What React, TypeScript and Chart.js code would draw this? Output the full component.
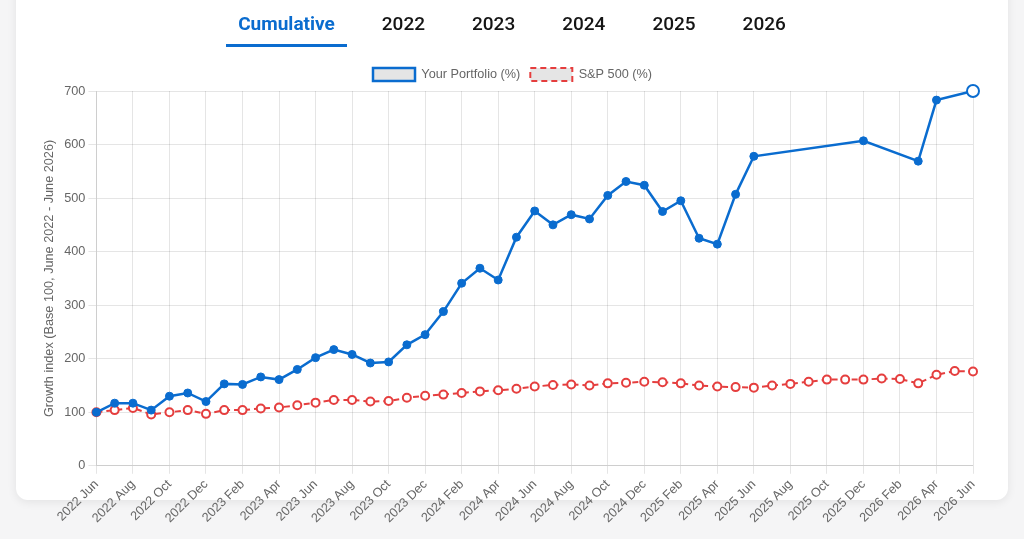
import React, { useEffect, useRef } from "react";
import { Chart, registerables } from "chart.js";

Chart.register(...registerables);

const monthLabels: string[] = [
  "2022 Jun", "2022 Jul", "2022 Aug", "2022 Sep", "2022 Oct", "2022 Nov", "2022 Dec",
  "2023 Jan", "2023 Feb", "2023 Mar", "2023 Apr", "2023 May", "2023 Jun", "2023 Jul",
  "2023 Aug", "2023 Sep", "2023 Oct", "2023 Nov", "2023 Dec",
  "2024 Jan", "2024 Feb", "2024 Mar", "2024 Apr", "2024 May", "2024 Jun", "2024 Jul",
  "2024 Aug", "2024 Sep", "2024 Oct", "2024 Nov", "2024 Dec",
  "2025 Jan", "2025 Feb", "2025 Mar", "2025 Apr", "2025 May", "2025 Jun", "2025 Jul",
  "2025 Aug", "2025 Sep", "2025 Oct", "2025 Nov", "2025 Dec",
  "2026 Jan", "2026 Feb", "2026 Mar", "2026 Apr", "2026 May", "2026 Jun",
];

const portfolioValues: (number | null)[] = [
  100, 117, 117, 104, 130, 136, 120,
  153, 152, 166, 161, 180, 202, 217,
  208, 192, 194, 226, 245,
  288, 341, 369, 347, 427, 476, 450,
  469, 461, 505, 531, 524,
  475, 495, 425, 414, 507, 578, null,
  null, null, null, null, 607,
  null, null, 569, 683, null, 700,
];

const sp500Values: number[] = [
  100, 104, 108, 96, 100, 104, 97,
  104, 104, 107, 109, 113, 118, 123,
  123, 120, 121, 127, 131,
  133, 136, 139, 141, 144, 148, 151,
  152, 150, 154, 155, 157,
  156, 154, 150, 148, 147, 146, 150,
  153, 157, 161, 161, 161,
  163, 162, 154, 170, 177, 176,
];

const yTicks: number[] = [0, 100, 200, 300, 400, 500, 600, 700];

const tabs: string[] = ["Cumulative", "2022", "2023", "2024", "2025", "2026"];

const BLUE = "#0a6ccf";
const RED = "#e53e3e";
const FONT = { size: 12.7, family: "'Liberation Sans', Arial, sans-serif" };

const legendShift = {
  id: "legendShift",
  afterLayout(chart: any) {
    if (chart.legend) {
      chart.legend.left += 7;
      chart.legend.right += 7;
    }
  },
};

function ChartCanvas() {
  const ref = useRef<HTMLCanvasElement | null>(null);
  useEffect(() => {
    if (!ref.current) return;
    const last = portfolioValues.length - 1;
    const chart = new Chart(ref.current, {
      type: "line",
      plugins: [legendShift],
      data: {
        labels: monthLabels,
        datasets: [
          {
            label: "Your Portfolio (%)",
            data: portfolioValues,
            borderColor: BLUE,
            backgroundColor: "rgba(0,0,0,0.1)",
            borderWidth: 2.5,
            tension: 0,
            spanGaps: true,
            clip: false,
            pointRadius: portfolioValues.map((_, i) => (i === last ? 6 : 4)),
            pointBackgroundColor: portfolioValues.map((_, i) => (i === last ? "#ffffff" : BLUE)),
            pointBorderColor: BLUE,
            pointBorderWidth: portfolioValues.map((_, i) => (i === last ? 2 : 1)),
          },
          {
            label: "S&P 500 (%)",
            data: sp500Values,
            borderColor: RED,
            backgroundColor: "rgba(0,0,0,0.1)",
            borderWidth: 2,
            borderDash: [6, 4],
            tension: 0,
            clip: false,
            pointRadius: 4,
            pointBackgroundColor: "#ffffff",
            pointBorderColor: RED,
            pointBorderWidth: 2,
          },
        ],
      },
      options: {
        animation: false,
        responsive: true,
        maintainAspectRatio: false,
        layout: { padding: { left: 22, right: 35, top: 0, bottom: 10 } },
        plugins: {
          legend: {
            display: true,
            labels: {
              color: "#666",
              font: FONT,
              boxWidth: 42,
              boxHeight: 13,
            },
          },
          tooltip: { enabled: false },
        },
        scales: {
          x: {
            grid: {
              color: (ctx: any) => (ctx.index % 2 === 0 ? "rgba(0,0,0,0.1)" : "rgba(0,0,0,0)"),
            },
            ticks: {
              autoSkip: false,
              minRotation: 45,
              maxRotation: 45,
              color: "#666",
              font: FONT,
              callback: function (_v: any, i: number) {
                return i % 2 === 0 ? monthLabels[i] : "";
              },
            },
          },
          y: {
            min: yTicks[0],
            max: yTicks[yTicks.length - 1],
            ticks: {
              stepSize: 100,
              color: "#666",
              font: FONT,
            },
            grid: { color: "rgba(0,0,0,0.1)" },
            title: {
              display: true,
              text: "Growth index (Base 100, June 2022 - June 2026)",
              color: "#666",
              font: FONT,
            },
          },
        },
      },
    });
    return () => chart.destroy();
  }, []);
  return <canvas ref={ref} />;
}

export default function App() {
  useEffect(() => {
    document.body.style.background = "#f5f5f6";
    document.body.style.overflow = "hidden";
  }, []);
  return (
    <div>
      <div
        style={{
          position: "fixed",
          left: 16,
          top: -20,
          width: 992,
          height: 520,
          background: "#ffffff",
          borderRadius: 12,
          boxShadow: "0 2px 10px rgba(0,0,0,0.08)",
        }}
      />
      <div
        style={{
          position: "fixed",
          left: 0,
          top: 0,
          width: 1024,
          height: 50,
          display: "flex",
          justifyContent: "center",
          alignItems: "flex-start",
          gap: 23,
          fontFamily: "Roboto, 'Noto Sans', sans-serif",
          fontSize: 19,
        }}
      >
        {tabs.map((t, i) => (
          <div
            key={t}
            style={{
              padding: "12px 12px 0 12px",
              height: 32,
              color: i === 0 ? BLUE : "#151515",
              fontWeight: i === 0 ? 700 : 500,
              borderBottom: i === 0 ? `3px solid ${BLUE}` : "3px solid transparent",
              lineHeight: "24px",
            }}
          >
            {t}
          </div>
        ))}
      </div>
      <div style={{ position: "fixed", left: 16, top: 58, width: 992, height: 481 }}>
        <ChartCanvas />
      </div>
    </div>
  );
}
